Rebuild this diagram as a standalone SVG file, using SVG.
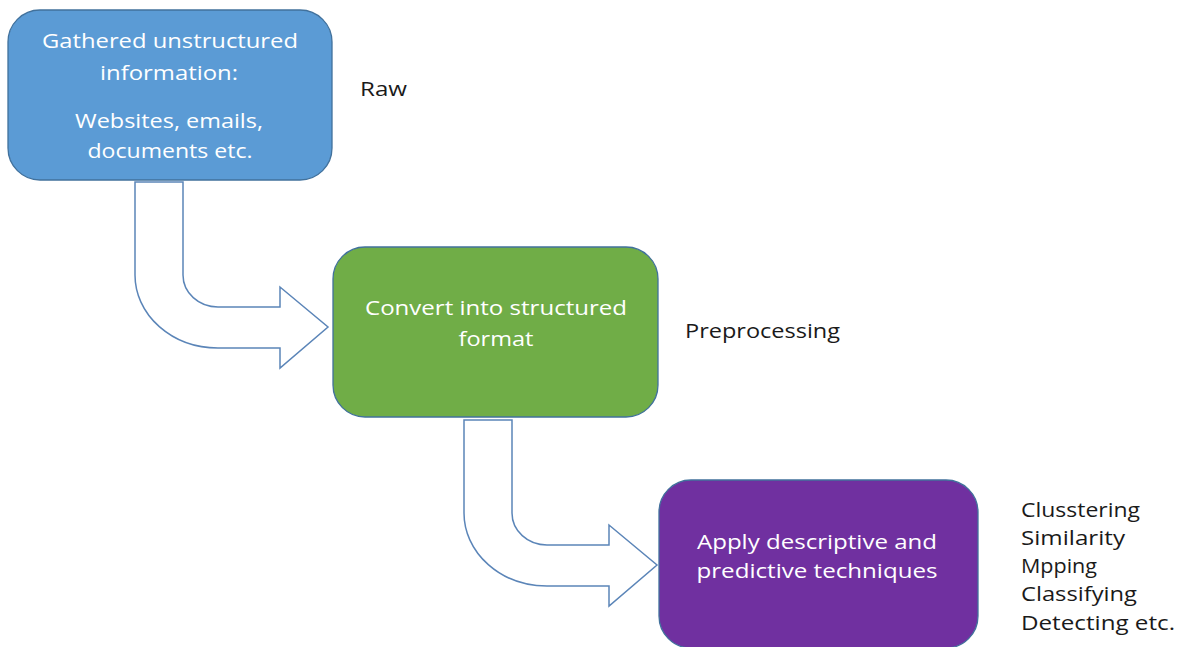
<svg xmlns="http://www.w3.org/2000/svg" width="1182" height="647" viewBox="0 0 1182 647">
  <style>
    .box { stroke: #41719C; stroke-width: 1.3; }
    .flow { fill: #FFFFFF; stroke: #5B85B8; stroke-width: 1.5; stroke-linejoin: miter; }
    .in { font-family: "Open Sans", "DejaVu Sans", sans-serif; font-size: 20px; fill: #FFFFFF; text-anchor: middle; }
    .side { font-family: "Open Sans", "DejaVu Sans", sans-serif; font-size: 20px; fill: #1A1A1A; }
  </style>
  <defs>
    <!-- bent block arrow: down, then right -->
    <path id="bent" d="M135,182 H183 V275 A35,32 0 0 0 218,307 H280 V287 L328,327 L280,368 V348 H218 A83,73 0 0 1 135,275 Z"/>
  </defs>
  <rect width="1182" height="647" fill="#FFFFFF"/>

  <g id="connectors">
    <use href="#bent" class="flow"/>
    <use href="#bent" class="flow" transform="translate(329,238)"/>
  </g>

  <g id="raw">
    <rect class="box" x="8" y="10" width="324" height="170" rx="32" fill="#5B9BD5"/>
    <text class="in" x="170" y="48" textLength="256" lengthAdjust="spacingAndGlyphs">Gathered unstructured</text>
    <text class="in" x="169" y="80" textLength="138" lengthAdjust="spacingAndGlyphs">information:</text>
    <text class="in" x="169" y="128" textLength="188" lengthAdjust="spacingAndGlyphs">Websites, emails,</text>
    <text class="in" x="170" y="158" textLength="165" lengthAdjust="spacingAndGlyphs">documents etc.</text>
  </g>

  <g id="preprocess">
    <rect class="box" x="333" y="247" width="325" height="170" rx="32" fill="#70AD47"/>
    <text class="in" x="496" y="315" textLength="262" lengthAdjust="spacingAndGlyphs">Convert into structured</text>
    <text class="in" x="496" y="346" textLength="75" lengthAdjust="spacingAndGlyphs">format</text>
  </g>

  <g id="analyse">
    <rect class="box" x="659" y="480" width="319" height="168" rx="32" fill="#7030A0"/>
    <text class="in" x="817" y="549" textLength="240" lengthAdjust="spacingAndGlyphs">Apply descriptive and</text>
    <text class="in" x="817" y="578" textLength="241" lengthAdjust="spacingAndGlyphs">predictive techniques</text>
  </g>

  <g id="stage-labels">
    <text class="side" x="360" y="96" textLength="47" lengthAdjust="spacingAndGlyphs">Raw</text>
    <text class="side" x="685" y="338" textLength="155" lengthAdjust="spacingAndGlyphs">Preprocessing</text>
    <text class="side" x="1021" y="517" textLength="119" lengthAdjust="spacingAndGlyphs">Clusstering</text>
    <text class="side" x="1021" y="545" textLength="104" lengthAdjust="spacingAndGlyphs">Similarity</text>
    <text class="side" x="1021" y="573" textLength="76" lengthAdjust="spacingAndGlyphs">Mpping</text>
    <text class="side" x="1021" y="601" textLength="116" lengthAdjust="spacingAndGlyphs">Classifying</text>
    <text class="side" x="1021" y="630" textLength="154" lengthAdjust="spacingAndGlyphs">Detecting etc.</text>
  </g>
</svg>
